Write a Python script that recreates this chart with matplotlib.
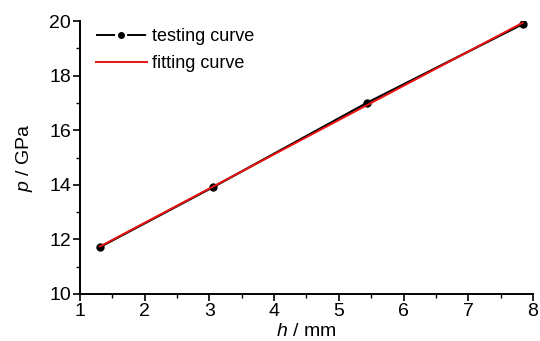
import matplotlib
matplotlib.use("Agg")
import matplotlib.pyplot as plt
from matplotlib.lines import Line2D
from matplotlib.ticker import MultipleLocator

# testing points
h_test = [1.31, 3.06, 5.44, 7.84]
p_test = [11.72, 13.92, 17.01, 19.89]

# fitted straight line (end points)
h_fit = [1.31, 7.84]
p_fit = [11.74, 19.94]

plt.rcParams["font.family"] = ["Liberation Sans", "DejaVu Sans"]
plt.rcParams["mathtext.fontset"] = "custom"
plt.rcParams["mathtext.rm"] = "Liberation Sans"
plt.rcParams["mathtext.it"] = "Liberation Sans:italic"


def main():
    fig = plt.figure(figsize=(5.4, 3.41), dpi=100)
    ax = fig.add_axes([0.148, 0.138, 0.839, 0.8])

    ax.plot(h_test, p_test, color="black", linewidth=1.6, marker="o", markersize=5)
    ax.plot(h_fit, p_fit, color="#ee1111", linewidth=1.4)

    ax.set_xlim(1, 8)
    ax.set_ylim(10, 20)
    ax.xaxis.set_major_locator(MultipleLocator(1))
    ax.xaxis.set_minor_locator(MultipleLocator(0.5))
    ax.yaxis.set_major_locator(MultipleLocator(2))
    ax.yaxis.set_minor_locator(MultipleLocator(1))

    for side in ["top", "right"]:
        ax.spines[side].set_visible(False)
    for side in ["left", "bottom"]:
        ax.spines[side].set_linewidth(1.4)

    ax.tick_params(which="major", direction="out", length=5, width=1.2, labelsize=14, pad=1.5)
    ax.tick_params(which="minor", direction="out", length=3, width=1.0)

    ax.set_xlabel(r"$\mathit{h}$ / mm", fontsize=14, labelpad=2.5)
    ax.set_ylabel(r"$\mathit{p}$ / GPa", fontsize=14, labelpad=10)

    # origin-style handle: line, gap, dot, gap, line
    test_handle = Line2D([], [], color="black", linewidth=1.4, marker="o", markersize=4,
                         linestyle=(0, (9.8, 6.2)))
    fit_handle = Line2D([], [], color="#ee1111", linewidth=1.4)
    ax.legend([test_handle, fit_handle], ["testing curve", "fitting curve"],
              loc="upper left", bbox_to_anchor=(0.02, 1.0), frameon=False,
              fontsize=13, handlelength=2.8, handletextpad=0.3, labelspacing=0.55,
              borderaxespad=0)

    fig.savefig("out.png", dpi=100)


if __name__ == "__main__":
    main()
